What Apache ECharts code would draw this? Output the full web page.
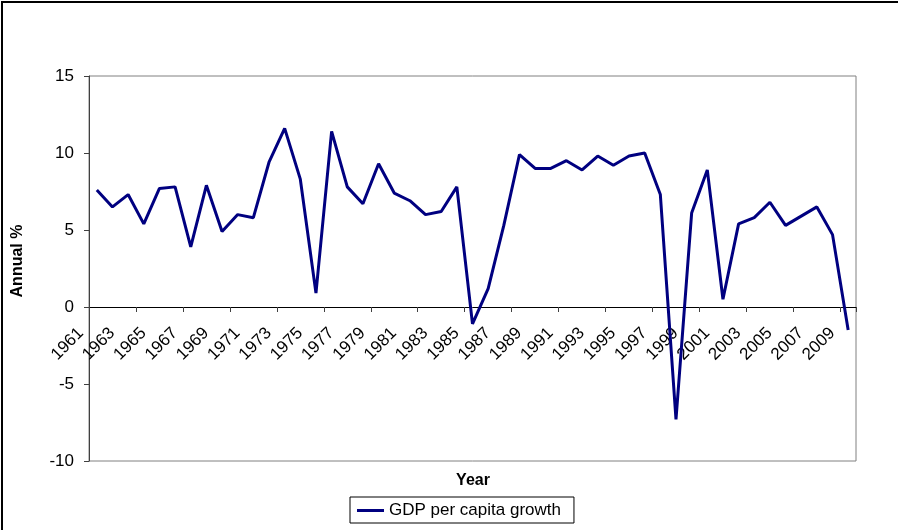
<!DOCTYPE html>
<html>
<head>
<meta charset="utf-8">
<script src="https://cdn.jsdelivr.net/npm/echarts@6/dist/echarts.min.js"></script>
<style>
  html, body { margin: 0; padding: 0; background: #ffffff; }
  #chart { width: 898px; height: 530px; }
</style>
</head>
<body>
<div id="chart"></div>
<script>
// categories (one per year) and the series
const years = [
  '1961', '1962', '1963', '1964', '1965', '1966', '1967', '1968', '1969', '1970',
  '1971', '1972', '1973', '1974', '1975', '1976', '1977', '1978', '1979', '1980',
  '1981', '1982', '1983', '1984', '1985', '1986', '1987', '1988', '1989', '1990',
  '1991', '1992', '1993', '1994', '1995', '1996', '1997', '1998', '1999', '2000',
  '2001', '2002', '2003', '2004', '2005', '2006', '2007', '2008', '2009'
];
const gdpGrowth = [
  7.6, 6.5, 7.3, 5.4, 7.7, 7.8, 3.9, 7.9, 4.9, 6.0,
  5.8, 9.4, 11.6, 8.3, 0.9, 11.4, 7.8, 6.7, 9.3, 7.4,
  6.9, 6.0, 6.2, 7.8, -1.1, 1.2, 5.3, 9.9, 9.0, 9.0,
  9.5, 8.9, 9.8, 9.2, 9.8, 10.0, 7.3, -7.3, 6.1, 8.9,
  0.5, 5.4, 5.8, 6.8, 5.3, 5.9, 6.5, 4.7, -1.5
];
const yTicks = { min: -10, max: 15, interval: 5 };

const font = 'Arial, "Liberation Sans", sans-serif';

// plot area in pixels
const plotTop = 76;
const plotBottom = 461;
// where 0 sits, so the category axis can be pulled up to it
const zeroY = plotBottom - (0 - yTicks.min) / (yTicks.max - yTicks.min) * (plotBottom - plotTop);

const chart = echarts.init(document.getElementById('chart'));

const option = {
  animation: false,
  backgroundColor: '#ffffff',
  grid: {
    left: 89,
    right: 42,
    top: plotTop,
    bottom: 530 - plotBottom,
    show: true,
    borderColor: '#808080',
    borderWidth: 1,
    backgroundColor: '#ffffff',
  },
  legend: {
    data: [{ name: 'GDP per capita growth', icon: 'rect' }],
    left: 350,
    top: 497,
    padding: [5, 13, 4, 7],
    itemWidth: 27,
    itemHeight: 3,
    itemGap: 5,
    borderColor: '#000000',
    borderWidth: 1,
    textStyle: { color: '#000000', fontSize: 17, fontFamily: font },
  },
  xAxis: {
    type: 'category',
    data: years,
    boundaryGap: true,
    offset: -(plotBottom - zeroY),
    axisLine: { onZero: false, lineStyle: { color: '#000000', width: 1 } },
    axisTick: { show: true, interval: 2, length: 5, lineStyle: { color: '#404040' } },
    axisLabel: {
      interval: 1,
      rotate: 45,
      margin: 31,
      align: 'right',
      verticalAlign: 'bottom',
      padding: [0, 6, 8, 0],
      color: '#000000',
      fontSize: 17,
      fontFamily: font,
    },
    splitLine: { show: false },
  },
  yAxis: {
    type: 'value',
    min: yTicks.min,
    max: yTicks.max,
    interval: yTicks.interval,
    axisLine: { show: true, lineStyle: { color: '#404040', width: 1 } },
    axisTick: { show: true, length: 5, lineStyle: { color: '#404040' } },
    axisLabel: { margin: 15, color: '#000000', fontSize: 17, fontFamily: font },
    splitLine: { show: false },
  },
  graphic: [
    // outer chart frame (only top and left edges are visible)
    {
      type: 'rect',
      shape: { x: 2, y: 2, width: 1000, height: 1000 },
      style: { fill: null, stroke: '#000000', lineWidth: 2 },
      silent: true,
    },
    {
      type: 'text',
      x: 18,
      y: 261,
      rotation: Math.PI / 2,
      style: {
        text: 'Annual %',
        fill: '#000000',
        font: 'bold 16px ' + font,
        align: 'center',
        verticalAlign: 'middle',
      },
    },
    {
      type: 'text',
      x: 473,
      y: 481,
      style: {
        text: 'Year',
        fill: '#000000',
        font: 'bold 16px ' + font,
        align: 'center',
        verticalAlign: 'middle',
      },
    },
  ],
  series: [
    {
      name: 'GDP per capita growth',
      type: 'line',
      data: gdpGrowth,
      showSymbol: false,
      symbol: 'none',
      lineStyle: { color: '#000080', width: 3 },
      itemStyle: { color: '#000080' },
    },
  ],
};

chart.setOption(option);
</script>
</body>
</html>
